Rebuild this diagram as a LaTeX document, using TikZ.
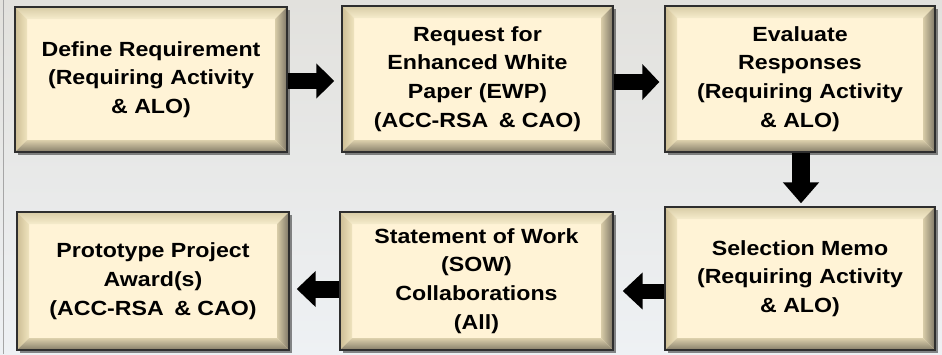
\documentclass[tikz,border=0pt]{standalone}
\usepackage{fontspec}
\setmainfont{Liberation Sans}[FakeStretch=1.13]
\usetikzlibrary{arrows.meta,shadows,calc}
\definecolor{face}{HTML}{FFF3D6}
\definecolor{bordercol}{HTML}{2E2E2E}
\definecolor{toptout}{HTML}{D8CCA6}
\definecolor{toptin}{HTML}{F6ECCC}
\definecolor{leftout}{HTML}{CDBE95}
\definecolor{leftin}{HTML}{EFE3BE}
\definecolor{rightout}{HTML}{7E7766}
\definecolor{rightin}{HTML}{D8CCA8}
\definecolor{botout}{HTML}{857D69}
\definecolor{botin}{HTML}{DCD0AC}
\definecolor{bgtop}{HTML}{E2E1DD}
\definecolor{bgmid}{HTML}{D9D8D4}
\definecolor{bgbot}{HTML}{EEF1F4}
\tikzset{
  bevelbox/.style={draw=bordercol, line width=1.4pt, fill=face, inner sep=0pt, align=center,
    font=\bfseries\fontsize{20.5}{28.7}\selectfont,
    drop shadow={shadow xshift=3pt, shadow yshift=-3pt, opacity=0.45, fill=black},
    path picture={
      \coordinate (nw) at (path picture bounding box.north west);
      \coordinate (ne) at (path picture bounding box.north east);
      \coordinate (sw) at (path picture bounding box.south west);
      \coordinate (se) at (path picture bounding box.south east);
      \shade[top color=toptout, bottom color=toptin] (nw) -- (ne) -- ([xshift=-12pt,yshift=-12pt]ne) -- ([xshift=12pt,yshift=-12pt]nw) -- cycle;
      \shade[left color=leftout, right color=leftin] (nw) -- ([xshift=12pt,yshift=-12pt]nw) -- ([xshift=12pt,yshift=12pt]sw) -- (sw) -- cycle;
      \shade[left color=rightin, right color=rightout] (ne) -- (se) -- ([xshift=-12pt,yshift=12pt]se) -- ([xshift=-12pt,yshift=-12pt]ne) -- cycle;
      \shade[top color=botin, bottom color=botout] (sw) -- ([xshift=12pt,yshift=12pt]sw) -- ([xshift=-12pt,yshift=12pt]se) -- (se) -- cycle;
    }},
  flow/.style={draw=black, line width=#1}
}
\begin{document}
\begin{tikzpicture}[x=1pt,y=-1pt]
\useasboundingbox (0,0) rectangle (942,354);
% background (faded photo)
\shade[top color=bgtop, middle color=bgmid, bottom color=bgbot] (0,0) rectangle (942,354);
\draw[gray!70, line width=1pt] (3.5,0) -- (3.5,354);
% boxes
\node[bevelbox, minimum width=272pt, minimum height=145pt] (b1) at (151,79.5)
  {Define Requirement\\(Requiring Activity\\\& ALO)};
\node[bevelbox, minimum width=271pt, minimum height=146pt] (b2) at (477.5,79)
  {Request for\\Enhanced White\\Paper (EWP)\\(ACC-RSA\hspace{4pt} \& CAO)};
\node[bevelbox, minimum width=270pt, minimum height=146pt] (b3) at (800,79)
  {Evaluate\\Responses\\(Requiring Activity\\\& ALO)};
\node[bevelbox, minimum width=272pt, minimum height=138pt] (b4) at (153,281)
  {Prototype Project\\Award(s)\\(ACC-RSA\hspace{4pt} \& CAO)};
\node[bevelbox, minimum width=273pt, minimum height=138pt] (b5) at (476.5,281)
  {Statement of Work\\(SOW)\\Collaborations\\(All)};
\node[bevelbox, minimum width=270pt, minimum height=143pt] (b6) at (800,278.5)
  {Selection Memo\\(Requiring Activity\\\& ALO)};
% arrows
\draw[flow=16pt, -{Triangle[length=18pt,width=34pt]}, shorten >=7pt]
  (b1.east |- 0,81) -- (b2.west |- 0,81);
\draw[flow=16pt, -{Triangle[length=17pt,width=35pt]}, shorten >=5pt]
  (b2.east |- 0,82) -- (b3.west |- 0,82);
\draw[flow=18pt, -{Triangle[length=21pt,width=35pt]}, shorten >=3pt]
  (b3.south -| 801,0) -- (b6.north -| 801,0);
\draw[flow=15pt, -{Triangle[length=20pt,width=36pt]}, shorten >=9pt]
  (b6.west |- 0,291) -- (b5.east |- 0,291);
\draw[flow=17pt, -{Triangle[length=19pt,width=35pt]}, shorten >=7pt]
  (b5.west |- 0,289) -- (b4.east |- 0,289);
\end{tikzpicture}
\end{document}
